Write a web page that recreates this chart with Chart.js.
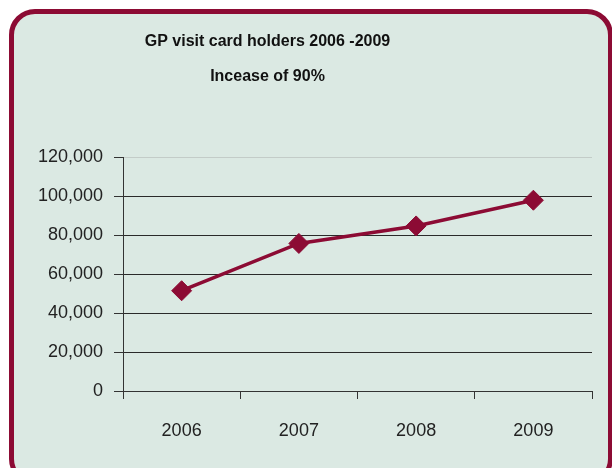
<!DOCTYPE html>
<html>
<head>
<meta charset="utf-8">
<script src="https://cdn.jsdelivr.net/npm/chart.js@4"></script>
<style>
  html, body { margin: 0; padding: 0; background: #ffffff; overflow: hidden; }
  #frame {
    position: absolute; left: 9px; top: 9px;
    width: 604px; height: 476px;
    box-sizing: border-box;
    border: 5px solid #8c0b34;
    border-radius: 26px;
    background: #dbe9e3;
  }
  #chart { position: absolute; left: 0; top: 0; }
</style>
</head>
<body>
<div id="frame"></div>
<canvas id="chart" width="612" height="468"></canvas>
<script>
// Dados
const years = ['2006', '2007', '2008', '2009'];
const holders = [51500, 75800, 84800, 98000];
const titleLines = ['GP visit card holders 2006 -2009', 'Incease of 90%'];

const FONT = "'Liberation Sans', Arial, sans-serif";
const MAROON = '#8c0b34';

// O título no original não está centrado na página, mas um pouco à esquerda
const shiftTitle = {
    id: 'shiftTitle',
    afterLayout(chart) {
        if (chart.titleBlock) {
            chart.titleBlock.left = 0;
            chart.titleBlock.right = 535;
        }
    }
};

new Chart(document.getElementById('chart'), {
    type: 'line',
    data: {
        labels: years,
        datasets: [{
            data: holders,
            borderColor: MAROON,
            backgroundColor: MAROON,
            borderWidth: 3.5,
            tension: 0,
            pointStyle: 'rectRot',
            pointRadius: 10,
            pointBorderWidth: 1,
            pointBackgroundColor: MAROON,
            pointBorderColor: MAROON
        }]
    },
    options: {
        responsive: false,
        animation: false,
        layout: { padding: { left: 0, right: 20, top: 0, bottom: 0 } },
        plugins: {
            legend: { display: false },
            tooltip: { enabled: false },
            title: {
                display: true,
                text: titleLines,
                color: '#111',
                font: { family: FONT, size: 16, weight: 'bold', lineHeight: 2.2 },
                padding: { top: 24, bottom: 63 }
            }
        },
        scales: {
            x: {
                offset: true,
                grid: {
                    offset: true,
                    drawOnChartArea: false,
                    drawTicks: true,
                    tickLength: 8,
                    tickColor: '#333'
                },
                border: { color: '#333', width: 1 },
                ticks: { color: '#222', padding: 21, font: { family: FONT, size: 18 } },
                afterFit: function(scale) { scale.height = 77; }
            },
            y: {
                min: 0,
                max: 120000,
                ticks: {
                    stepSize: 20000,
                    color: '#222',
                    padding: 11,
                    font: { family: FONT, size: 18 },
                    callback: function(value) { return value.toLocaleString('en-US'); }
                },
                grid: {
                    tickLength: 9,
                    tickColor: '#333',
                    color: function(ctx) {
                        // linha do topo é clara no original
                        return ctx.tick && ctx.tick.value === 120000 ? '#c3ccc8' : '#2a2a2a';
                    }
                },
                border: { color: '#333', width: 1 },
                afterFit: function(scale) { scale.width = 123; }
            }
        }
    },
    plugins: [shiftTitle]
});
</script>
</body>
</html>
